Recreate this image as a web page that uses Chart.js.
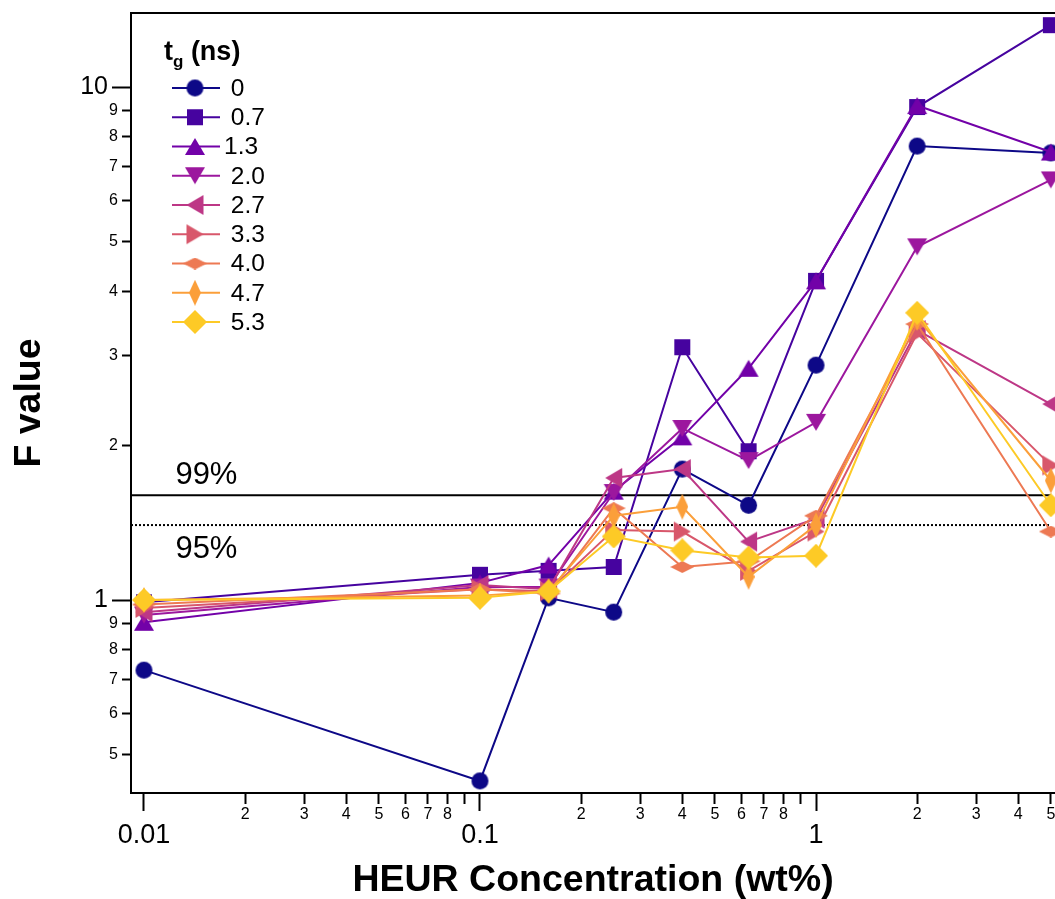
<!DOCTYPE html>
<html><head><meta charset="utf-8">
<script src="https://cdn.jsdelivr.net/npm/chart.js@4/dist/chart.umd.min.js"></script>
<style>html,body{margin:0;padding:0;background:#fff;overflow:hidden;width:1055px;height:899px;} #wrap{width:1055px;height:899px;position:relative;overflow:hidden;} canvas{display:block;}</style>
</head><body><div id="wrap"><canvas id="c"></canvas></div>
<script>
// ---- data ----
const concentrations = [0.01, 0.1, 0.16, 0.25, 0.4, 0.63, 1, 2, 5];
const seriesNames = [' 0', ' 0.7', '1.3', ' 2.0', ' 2.7', ' 3.3', ' 4.0', ' 4.7', ' 5.3'];
const f_0_0 = [0.730, 0.444, 1.01, 0.947, 1.80, 1.53, 2.87, 7.67, 7.44];
const f_0_7 = [0.990, 1.12, 1.14, 1.16, 3.11, 1.95, 4.19, 9.14, 13.2];
const f_1_3 = [0.905, 1.08, 1.17, 1.63, 2.08, 2.83, 4.19, 9.20, 7.47];
const f_2_0 = [0.935, 1.06, 1.06, 1.62, 2.16, 1.87, 2.22, 4.88, 6.59];
const f_2_7 = [0.947, 1.07, 1.05, 1.73, 1.80, 1.30, 1.44, 3.36, 2.41];
const f_3_3 = [0.965, 1.05, 1.04, 1.37, 1.36, 1.14, 1.36, 3.31, 1.83];
const f_4_0 = [0.980, 1.05, 1.03, 1.51, 1.16, 1.19, 1.46, 3.45, 1.36];
const f_4_7 = [1.000, 1.02, 1.04, 1.46, 1.52, 1.11, 1.40, 3.55, 1.71];
const f_5_3 = [1.000, 1.01, 1.04, 1.33, 1.25, 1.21, 1.22, 3.63, 1.53];
const seriesValues = [f_0_0, f_0_7, f_1_3, f_2_0, f_2_7, f_3_3, f_4_0, f_4_7, f_5_3];
const seriesColors = ['#0d0887', '#46039f', '#7201a8', '#9c179e', '#bd3786', '#d8576b', '#ed7953', '#fb9f3a', '#fdca26'];
const seriesMarkers = ['circle', 'square', 'triUp', 'triDown', 'triLeft', 'triRight', 'flatDiamond', 'tallDiamond', 'diamond'];
const thresholdValues = [1.6, 1.4];
const thresholdLabels = ['99%', '95%'];
const xRange = [0.009148, 5.144];
const yRange = [0.4206, 13.94];
const xMajorTicks = [0.01, 0.1, 1];
const xMinorTicks = [0.02,0.03,0.04,0.05,0.06,0.07,0.08,0.09,0.2,0.3,0.4,0.5,0.6,0.7,0.8,0.9,2,3,4,5];
const xMinorLabels = ['2','3','4','5','6','7','8','','2','3','4','5','6','7','8','','2','3','4','5'];
const yMajorTicks = [1, 10];
const yMinorTicks = [0.5,0.6,0.7,0.8,0.9,2,3,4,5,6,7,8,9];
const yMinorLabels = ['5','6','7','8','9','2','3','4','5','6','7','8','9'];

const FONT = '"Liberation Sans", Arial, Helvetica, sans-serif';

// ---- marker images ----
function makeMarker(shape, color) {
  const dims = {circle:[19,19], square:[18,18], triUp:[22,19], triDown:[22,19], triLeft:[19,22], triRight:[19,22],
                flatDiamond:[24,12], tallDiamond:[12,26], diamond:[24,24]}[shape];
  const c = document.createElement('canvas');
  c.width = dims[0]; c.height = dims[1];
  const g = c.getContext('2d');
  const w = dims[0], h = dims[1], cx = w/2, cy = h/2;
  g.fillStyle = color;
  g.beginPath();
  if (shape === 'circle') { g.arc(cx, cy, 8.5, 0, Math.PI*2); }
  else if (shape === 'square') { g.rect(1, 1, 16, 16); }
  else if (shape === 'triUp') { g.moveTo(cx, 1); g.lineTo(w-1, h-1); g.lineTo(1, h-1); }
  else if (shape === 'triDown') { g.moveTo(1, 1); g.lineTo(w-1, 1); g.lineTo(cx, h-1); }
  else if (shape === 'triLeft') { g.moveTo(1, cy); g.lineTo(w-1, 1); g.lineTo(w-1, h-1); }
  else if (shape === 'triRight') { g.moveTo(1, 1); g.lineTo(w-1, cy); g.lineTo(1, h-1); }
  else { g.moveTo(cx, 0); g.lineTo(w, cy); g.lineTo(cx, h); g.lineTo(0, cy); }
  g.closePath();
  g.fill();
  return c;
}
const markerImages = seriesMarkers.map((m, i) => makeMarker(m, seriesColors[i]));

// ---- datasets ----
const datasets = seriesValues.map((vals, i) => ({
  label: seriesNames[i].trim(),
  data: concentrations.map((x, k) => ({x: x, y: vals[k]})),
  borderColor: seriesColors[i],
  backgroundColor: seriesColors[i],
  borderWidth: 2,
  pointStyle: markerImages[i],
  pointRadius: 10,
  pointHoverRadius: 10,
  tension: 0,
  order: seriesValues.length - i,
  clip: false
}));
thresholdValues.forEach((v, i) => {
  datasets.push({
    label: thresholdLabels[i],
    data: [{x: xRange[0], y: v}, {x: 5, y: v}],
    borderColor: '#000',
    borderWidth: 2,
    borderDash: i === 1 ? [2, 2] : [],
    pointRadius: 0,
    order: 100,
    clip: false
  });
});

// ---- plugins ----
const overlayPlugin = {
  id: 'overlay',
  afterDatasetsDraw(chart) {
    const ctx = chart.ctx;
    const xs = chart.scales.x, ys = chart.scales.y;
    ctx.save();
    ctx.fillStyle = '#000';
    ctx.textAlign = 'left';
    ctx.textBaseline = 'middle';
    // threshold labels
    ctx.font = '31px ' + FONT;
    const lx = xs.getPixelForValue(0.0124);
    ctx.fillText(thresholdLabels[0], lx, ys.getPixelForValue(thresholdValues[0]) - 20);
    ctx.fillText(thresholdLabels[1], lx, ys.getPixelForValue(thresholdValues[1]) + 24);
    // legend
    let tx = 164; const ty = 53;
    ctx.font = 'bold 27px ' + FONT;
    ctx.fillText('t', tx, ty); tx += ctx.measureText('t').width;
    ctx.font = 'bold 17px ' + FONT;
    ctx.fillText('g', tx, ty + 9); tx += ctx.measureText('g').width;
    ctx.font = 'bold 27px ' + FONT;
    ctx.fillText(' (ns)', tx, ty);
    ctx.font = '24.5px ' + FONT;
    seriesNames.forEach((name, i) => {
      const cy = 88 + i * 29.25;
      ctx.strokeStyle = seriesColors[i];
      ctx.lineWidth = 2;
      ctx.beginPath(); ctx.moveTo(172, cy); ctx.lineTo(220, cy); ctx.stroke();
      const img = markerImages[i];
      ctx.drawImage(img, 195 - img.width / 2, cy - img.height / 2);
      ctx.fillText(name, 224, cy + 1);
    });
    ctx.restore();
  }
};

function setTicks(list) { return (s) => { s.ticks = list.map(v => ({value: v})); }; }
function zeroPad(s) { s.paddingLeft = 0; s.paddingRight = 0; s.paddingTop = 0; s.paddingBottom = 0; }

const tickFontX = {family: FONT, size: 27};
const tickFontY = {family: FONT, size: 25};
const tickFontMinor = {family: FONT, size: 16};

new Chart(document.getElementById('c'), {
  type: 'line',
  data: {datasets: datasets},
  plugins: [overlayPlugin],
  options: {
    responsive: true,
    maintainAspectRatio: false,
    animation: false,
    layout: {autoPadding: false, padding: {top: 13, left: 0, right: 0, bottom: 0}},
    plugins: {legend: {display: false}, tooltip: {enabled: false}},
    scales: {
      x: {
        type: 'logarithmic', position: 'bottom', weight: 1, min: xRange[0], max: xRange[1],
        afterBuildTicks: setTicks(xMajorTicks),
        afterFit: (s) => { s.height = 106; zeroPad(s); },
        grid: {drawOnChartArea: false, drawTicks: true, tickLength: 18, tickWidth: 2, tickColor: '#000'},
        border: {display: true, color: '#000', width: 2},
        ticks: {autoSkip: false, maxRotation: 0, minRotation: 0, font: tickFontX, color: '#000', padding: 8,
                callback: (v) => String(v)},
        title: {display: true, text: 'HEUR Concentration (wt%)', color: '#000',
                font: {family: FONT, size: 37.5, weight: 'bold', lineHeight: 1}, padding: {top: 0, bottom: 0}}
      },
      xm: {
        type: 'logarithmic', position: {y: yRange[0]}, min: xRange[0], max: xRange[1],
        afterBuildTicks: setTicks(xMinorTicks),
        afterFit: (s) => { s.height = 0; zeroPad(s); },
        grid: {drawOnChartArea: false, drawTicks: true, tickLength: 11, tickWidth: 2, tickColor: '#000'},
        border: {display: false},
        ticks: {autoSkip: false, maxRotation: 0, minRotation: 0, font: tickFontMinor, color: '#000', padding: 1,
                callback: (v, i) => xMinorLabels[i]}
      },
      xt: {
        type: 'logarithmic', position: 'top', min: xRange[0], max: xRange[1],
        afterFit: (s) => { s.height = 0; zeroPad(s); },
        grid: {display: false, drawTicks: false},
        border: {display: true, color: '#000', width: 2},
        ticks: {display: false}
      },
      y: {
        type: 'logarithmic', position: 'left', weight: 1, min: yRange[0], max: yRange[1],
        afterBuildTicks: setTicks(yMajorTicks),
        afterFit: (s) => { s.width = 131; zeroPad(s); },
        grid: {drawOnChartArea: false, drawTicks: true, tickLength: 19, tickWidth: 2, tickColor: '#000'},
        border: {display: true, color: '#000', width: 2},
        ticks: {autoSkip: false, font: tickFontY, color: '#000', padding: 4, callback: (v) => String(v)},
        title: {display: true, text: 'F value', color: '#000',
                font: {family: FONT, size: 37.5, weight: 'bold', lineHeight: 1}, padding: {top: 11, bottom: 0}}
      },
      ym: {
        type: 'logarithmic', position: 'left', weight: 0, min: yRange[0], max: yRange[1],
        afterBuildTicks: setTicks(yMinorTicks),
        afterFit: (s) => { s.width = 0; zeroPad(s); },
        grid: {drawOnChartArea: false, drawTicks: true, tickLength: 9, tickWidth: 2, tickColor: '#000'},
        border: {display: false},
        ticks: {autoSkip: false, mirror: true, crossAlign: 'far', padding: -22, font: tickFontMinor, color: '#000',
                callback: (v, i) => yMinorLabels[i]}
      }
    }
  }
});
</script>
</body></html>
